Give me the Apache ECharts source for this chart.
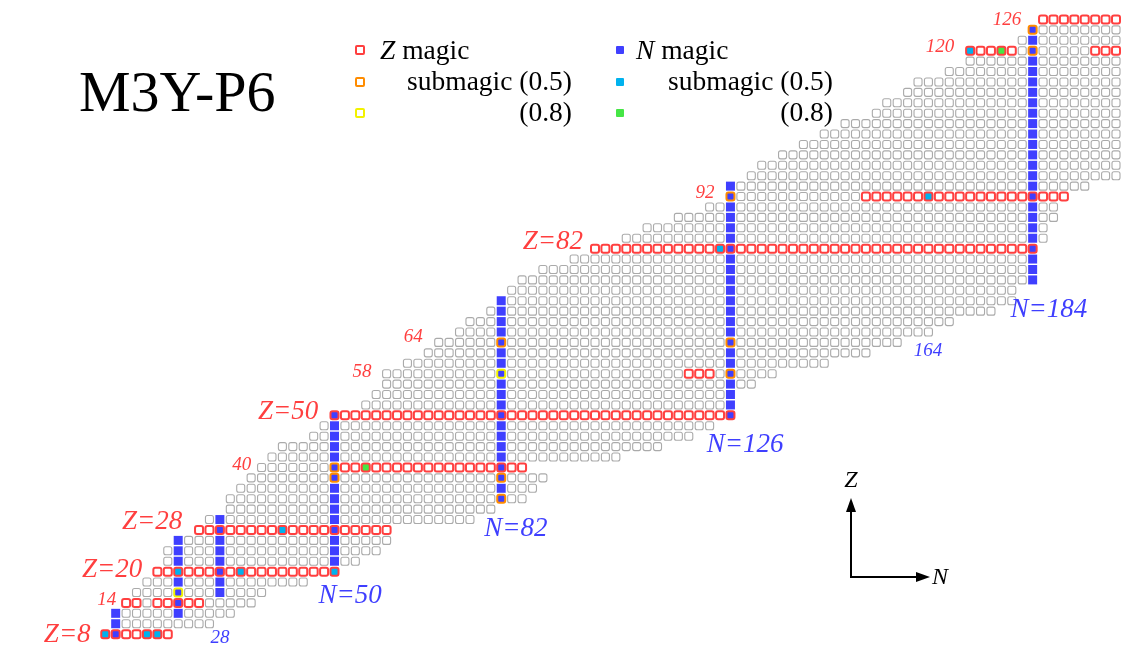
<!DOCTYPE html>
<html>
<head>
	<meta charset="utf-8"/>
	<title>M3Y-P6</title>
	<style type="text/css">
		html, body { margin: 0; padding: 0; background: #fff; }
		#chart { width: 1125px; height: 667px; }
	</style>
</head>
<body>
	<div id="chart"></div>
	<script src="https://cdn.jsdelivr.net/npm/echarts@6/dist/echarts.min.js"></script>
	<script type="text/javascript">

		// even-even nuclei, one row per Z: first and last N shown
		var zRows  = [8,10,12,14,16,18,20,22,24,26,28,30,32,34,36,38,40,42,44,46,48,50,52,54,56,58,60,62,64,66,68,70,72,74,76,78,80,82,84,86,88,90,92,94,96,98,100,102,104,106,108,110,112,114,116,118,120,122,124,126];
		var nFirst = [6,8,8,10,12,14,16,18,18,20,24,26,30,30,32,34,36,38,40,46,48,50,56,58,60,60,64,68,70,74,76,80,82,84,86,90,96,100,106,110,116,122,126,126,130,132,136,140,144,148,154,156,160,162,168,172,172,182,184,186];
		var nLast  = [18,26,30,34,36,44,50,54,58,60,60,76,80,86,88,90,86,104,112,118,122,126,126,126,130,134,144,152,158,164,168,176,180,180,184,184,184,184,186,186,188,188,190,194,200,200,200,200,200,200,200,200,200,200,200,200,200,200,200,200];

		// N magic columns (blue)
		var nMagicN     = [8,20,28,50,82,126,184];
		var nMagicZFrom = [8,12,16,20,34,50,76];
		var nMagicZTo   = [12,26,30,50,72,94,124];

		// Z magic row segments (red outline)
		var zMagicZ     = [8,14,14,20,28,40,50,58,82,92,120,120,126];
		var zMagicNFrom = [6,10,16,16,24,52,50,118,100,152,172,196,186];
		var zMagicNTo   = [18,12,24,50,60,86,126,122,184,190,180,200,200];

		// single cells [N, Z]
		var zSub05 = [[50,38],[50,40],[82,34],[82,38],[82,64],[126,58],[126,64],[126,92],[184,120],[184,124]];
		var zSub08 = [[20,16],[82,58]];
		var nSub05 = [[6,8],[14,8],[16,8],[20,20],[32,20],[50,20],[40,28],[124,82],[164,92],[172,120]];
		var nSub08 = [[56,40],[178,120]];

		var RED = '#ff3f3f', BLUE = '#3f3fff', CYAN = '#00b2ee', GREEN = '#45e645',
			ORANGE = '#ff8c00', YELLOW = '#f2f200', GRAY = '#aaaaaa';
		var SERIF = '"Liberation Serif", "DejaVu Serif", serif';

		var cells = {};
		function mark(n, z, prop, val){
			var k = n + '_' + z;
			if(!cells[k]) cells[k] = {n: n, z: z, fill: null, edge: null};
			if(prop) cells[k][prop] = val;
		}
		for(var i=0;i<zRows.length;i++){
			for(var n=nFirst[i]; n<=nLast[i]; n+=2) mark(n, zRows[i]);
		}
		for(var i=0;i<nMagicN.length;i++){
			for(var z=nMagicZFrom[i]; z<=nMagicZTo[i]; z+=2) mark(nMagicN[i], z, 'fill', BLUE);
		}
		nSub05.forEach(function(p){ mark(p[0], p[1], 'fill', CYAN); });
		nSub08.forEach(function(p){ mark(p[0], p[1], 'fill', GREEN); });
		for(var i=0;i<zMagicZ.length;i++){
			for(var n=zMagicNFrom[i]; n<=zMagicNTo[i]; n+=2) mark(n, zMagicZ[i], 'edge', RED);
		}
		zSub05.forEach(function(p){ mark(p[0], p[1], 'edge', ORANGE); });
		zSub08.forEach(function(p){ mark(p[0], p[1], 'edge', YELLOW); });

		var plainData = [], markedData = [];
		Object.keys(cells).forEach(function(k){
			var c = cells[k];
			if(c.edge){
				markedData.push({value: [c.n, c.z], symbol: 'roundRect', symbolSize: 8,
					itemStyle: {color: c.fill || '#fff', borderColor: c.edge, borderWidth: 2, opacity: 1}});
			}else if(c.fill){
				markedData.push({value: [c.n, c.z], symbol: 'rect', symbolSize: 9,
					itemStyle: {color: c.fill, borderWidth: 0, opacity: 1}});
			}else{
				plainData.push([c.n, c.z]);
			}
		});

		// annotation texts, anchored in (N, Z) units
		var notes = [
			{t: 'Z=8',   at: [-1.3, 7.8],   c: RED,  big: true},
			{t: 'Z=20',  at: [7.3, 20.3],   c: RED,  big: true},
			{t: 'Z=28',  at: [15.0, 29.5],  c: RED,  big: true},
			{t: 'Z=50',  at: [41.1, 50.6],  c: RED,  big: true},
			{t: 'Z=82',  at: [91.9, 83.3],  c: RED,  big: true},
			{t: '14',    at: [6.3, 14.6],   c: RED},
			{t: '40',    at: [32.2, 40.5],  c: RED},
			{t: '58',    at: [55.3, 58.3],  c: RED},
			{t: '64',    at: [65.1, 65.0],  c: RED},
			{t: '92',    at: [121.1, 92.7], c: RED},
			{t: '120',   at: [166.2, 120.7],c: RED},
			{t: '126',   at: [179.1, 125.9],c: RED},
			{t: 'N=50',  at: [53.0, 15.3],  c: BLUE, big: true},
			{t: 'N=82',  at: [84.8, 28.2],  c: BLUE, big: true},
			{t: 'N=126', at: [128.8, 44.3], c: BLUE, big: true},
			{t: 'N=184', at: [187.1, 70.2], c: BLUE, big: true},
			{t: '28',    at: [28.0, 7.3],   c: BLUE},
			{t: '164',   at: [163.9, 62.4], c: BLUE}
		];
		var noteData = notes.map(function(o){
			return {value: o.at, label: {formatter: o.t, color: o.c, fontSize: o.big ? 27 : 19}};
		});

		function legendBox(x, y, fill, edge){
			return {type: 'rect', shape: {x: x - 4, y: y - 4, width: 8, height: 8, r: 1},
				style: edge ? {fill: '#fff', stroke: edge, lineWidth: 2} : {fill: fill}};
		}
		function legendText(x, y, text, align){
			return {type: 'text', x: x, y: y, style: {text: text, font: '27.5px ' + SERIF, fill: '#000',
				align: align || 'left', verticalAlign: 'middle', rich: {i: {fontStyle: 'italic', fontSize: 27.5, fontFamily: SERIF}}}};
		}

		var chart = echarts.init(document.getElementById('chart'));
		var option = {
			animation: false,
			backgroundColor: '#fff',
			grid: {left: 74, right: 9, top: 9, bottom: 12},
			xAxis: {type: 'value', min: 0, max: 200, show: false},
			yAxis: {type: 'value', min: 4, max: 128, show: false},
			graphic: [
				{type: 'text', x: 79, y: 96, style: {text: 'M3Y-P6', font: '58px ' + SERIF, fill: '#000', verticalAlign: 'middle'}},
				legendBox(360, 50, null, RED),
				legendBox(360, 82, null, ORANGE),
				legendBox(360, 113, null, YELLOW),
				legendBox(620, 50, BLUE),
				legendBox(620, 82, CYAN),
				legendBox(620, 113, GREEN),
				legendText(380, 52, '{i|Z} magic'),
				legendText(572, 83, 'submagic (0.5)', 'right'),
				legendText(572, 114, '(0.8)', 'right'),
				legendText(636, 52, '{i|N} magic'),
				legendText(833, 83, 'submagic (0.5)', 'right'),
				legendText(833, 114, '(0.8)', 'right'),
				{type: 'line', shape: {x1: 851, y1: 577, x2: 851, y2: 510}, style: {stroke: '#000', lineWidth: 2}},
				{type: 'polygon', shape: {points: [[851, 498], [846, 512], [856, 512]]}, style: {fill: '#000'}},
				{type: 'line', shape: {x1: 850, y1: 577, x2: 918, y2: 577}, style: {stroke: '#000', lineWidth: 2}},
				{type: 'polygon', shape: {points: [[930, 577], [916, 572], [916, 582]]}, style: {fill: '#000'}},
				{type: 'text', x: 851, y: 481, style: {text: 'Z', font: 'italic 24px ' + SERIF, fill: '#000', align: 'center', verticalAlign: 'middle'}},
				{type: 'text', x: 940, y: 578, style: {text: 'N', font: 'italic 24px ' + SERIF, fill: '#000', align: 'center', verticalAlign: 'middle'}}
			],
			series: [
				{
					name: 'nuclei',
					type: 'scatter',
					data: plainData,
					symbol: 'roundRect',
					symbolSize: 8,
					large: false,
					progressive: 0,
					silent: true,
					itemStyle: {color: '#fff', borderColor: GRAY, borderWidth: 1.1, opacity: 1}
				},
				{
					name: 'magic',
					type: 'scatter',
					data: markedData,
					large: false,
					progressive: 0,
					silent: true,
					z: 3,
					itemStyle: {opacity: 1}
				},
				{
					name: 'notes',
					type: 'scatter',
					data: noteData,
					symbolSize: 0,
					clip: false,
					silent: true,
					z: 4,
					itemStyle: {opacity: 1},
					label: {show: true, position: 'inside', fontFamily: SERIF, fontStyle: 'italic', opacity: 1}
				}
			]
		};
		chart.setOption(option);

	</script>
</body>
</html>
